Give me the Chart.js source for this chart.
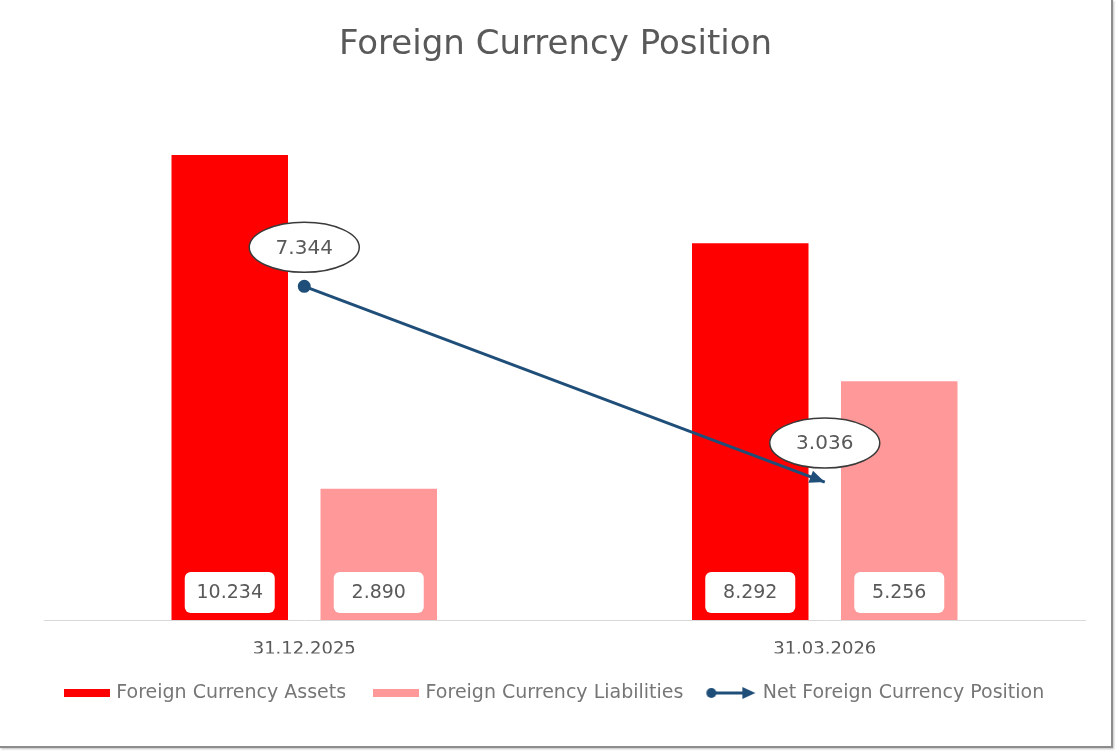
<!DOCTYPE html>
<html>
<head>
<meta charset="utf-8">
<script src="https://cdn.jsdelivr.net/npm/chart.js@4.4.0/dist/chart.umd.min.js"></script>
<style>
  html, body { margin: 0; padding: 0; background: #ffffff; }
  #wrap { position: absolute; left: 0; top: 0; width: 1111px; height: 746px;
          border-right: 2px solid #8c8c8c; border-bottom: 2px solid #8c8c8c;
          box-shadow: 1px 1px 2px rgba(0,0,0,0.25); background: #fff; }
  canvas { display: block; }
</style>
</head>
<body>
<div id="wrap"><canvas id="c" width="1111" height="746"></canvas></div>
<script>
const categories = ['31.12.2025', '31.03.2026'];
const assets = [10.234, 8.292];
const liabilities = [2.890, 5.256];
const netPosition = [7.344, 3.036];
const seriesNames = ['Foreign Currency Assets', 'Foreign Currency Liabilities', 'Net Foreign Currency Position'];
const chartTitle = 'Foreign Currency Position';

const RED = '#ff0000';
const PINK = '#ff9999';
const NAVY = '#1f4e79';
const TEXT = '#595959';
const LEGEND_TEXT = '#767676';
const FONT = "'DejaVu Sans', 'Noto Sans', sans-serif";

function fmt(v) { return v.toFixed(3); }

function makeRectIcon(color) {
  const c = document.createElement('canvas');
  c.width = 46; c.height = 10;
  const x = c.getContext('2d');
  x.fillStyle = color;
  x.fillRect(0, 1, 46, 8);
  return c;
}
function makeLineIcon() {
  const c = document.createElement('canvas');
  c.width = 56; c.height = 16;
  const x = c.getContext('2d');
  x.strokeStyle = NAVY; x.fillStyle = NAVY; x.lineWidth = 3;
  x.beginPath(); x.moveTo(6, 8); x.lineTo(38, 8); x.stroke();
  x.beginPath(); x.arc(6, 8, 5, 0, Math.PI * 2); x.fill();
  x.beginPath(); x.moveTo(50, 8); x.lineTo(37, 2); x.lineTo(37, 14); x.closePath(); x.fill();
  return c;
}
const legendIcons = [makeRectIcon(RED), makeRectIcon(PINK), makeLineIcon()];

const barLabelPlugin = {
  id: 'barLabels',
  afterDatasetsDraw(chart) {
    const ctx = chart.ctx;
    ctx.save();
    [0, 1].forEach(di => {
      const meta = chart.getDatasetMeta(di);
      meta.data.forEach((el, i) => {
        const v = chart.data.datasets[di].data[i];
        const w = 90, h = 41;
        const cx = el.x;
        const bottom = el.base - 7;
        ctx.beginPath();
        ctx.roundRect(cx - w / 2, bottom - h, w, h, 6);
        ctx.fillStyle = '#ffffff';
        ctx.fill();
        ctx.fillStyle = TEXT;
        ctx.font = '19px ' + FONT;
        ctx.textAlign = 'center';
        ctx.textBaseline = 'middle';
        ctx.fillText(fmt(v), cx, bottom - h / 2 + 1);
      });
    });
    ctx.restore();
  }
};

const lineDecorPlugin = {
  id: 'lineDecor',
  afterDatasetsDraw(chart) {
    const ctx = chart.ctx;
    const meta = chart.getDatasetMeta(2);
    const pts = meta.data;
    ctx.save();
    if (pts.length > 1) {
      const a = pts[pts.length - 2], b = pts[pts.length - 1];
      const ang = Math.atan2(b.y - a.y, b.x - a.x);
      const L = 15, W = 6.5;
      ctx.fillStyle = NAVY;
      ctx.beginPath();
      ctx.moveTo(b.x, b.y);
      ctx.lineTo(b.x - L * Math.cos(ang) + W * Math.sin(ang), b.y - L * Math.sin(ang) - W * Math.cos(ang));
      ctx.lineTo(b.x - L * Math.cos(ang) - W * Math.sin(ang), b.y - L * Math.sin(ang) + W * Math.cos(ang));
      ctx.closePath();
      ctx.fill();
    }
    pts.forEach((p, i) => {
      const v = chart.data.datasets[2].data[i];
      const cx = p.x, cy = p.y - 39;
      ctx.beginPath();
      ctx.ellipse(cx, cy, 55, 25, 0, 0, Math.PI * 2);
      ctx.fillStyle = '#ffffff';
      ctx.fill();
      ctx.lineWidth = 1.5;
      ctx.strokeStyle = '#3a3a3a';
      ctx.stroke();
      ctx.fillStyle = TEXT;
      ctx.font = '20px ' + FONT;
      ctx.textAlign = 'center';
      ctx.textBaseline = 'middle';
      ctx.fillText(fmt(v), cx, cy + 1);
    });
    ctx.restore();
  }
};

new Chart(document.getElementById('c'), {
  data: {
    labels: categories,
    datasets: [
      { type: 'bar', label: seriesNames[0], data: assets, backgroundColor: RED,
        categoryPercentage: 0.5725, barPercentage: 0.782, order: 2 },
      { type: 'bar', label: seriesNames[1], data: liabilities, backgroundColor: PINK,
        categoryPercentage: 0.5725, barPercentage: 0.782, order: 3 },
      { type: 'line', label: seriesNames[2], data: netPosition, borderColor: NAVY, borderWidth: 3,
        backgroundColor: NAVY, pointBackgroundColor: NAVY, pointBorderColor: NAVY,
        pointRadius: [5, 0], pointHoverRadius: [5, 0], pointStyle: 'circle', tension: 0, fill: false, order: 1 }
    ]
  },
  options: {
    responsive: false,
    animation: false,
    layout: { padding: { top: 10, left: 26, right: 26, bottom: 33.5 } },
    scales: {
      x: {
        grid: { display: false, drawTicks: false },
        border: { display: true, color: '#d9d9d9', width: 1 },
        ticks: { color: TEXT, font: { family: FONT, size: 18 }, padding: 19 },
        afterFit(s) { s.height = 33.5; }
      },
      y: {
        display: true, min: 0, max: 12,
        grid: { display: false, drawTicks: false },
        border: { display: false },
        ticks: { display: false },
        afterFit(s) { s.width = 18; }
      }
    },
    plugins: {
      title: { display: true, text: chartTitle, color: TEXT,
               font: { family: FONT, size: 34, weight: 'normal' }, padding: { top: 15, bottom: 9 } },
      legend: {
        position: 'bottom',
        labels: {
          color: LEGEND_TEXT, font: { family: FONT, size: 19 }, padding: 30,
          usePointStyle: true, pointStyleWidth: 40,
          generateLabels(chart) {
            const items = Chart.defaults.plugins.legend.labels.generateLabels(chart);
            items.sort((a, b) => a.datasetIndex - b.datasetIndex);
            items.forEach(it => { it.pointStyle = legendIcons[it.datasetIndex]; it.fontColor = LEGEND_TEXT; });
            return items;
          }
        }
      },
      tooltip: { enabled: false }
    }
  },
  plugins: [barLabelPlugin, lineDecorPlugin]
});
</script>
</body>
</html>
